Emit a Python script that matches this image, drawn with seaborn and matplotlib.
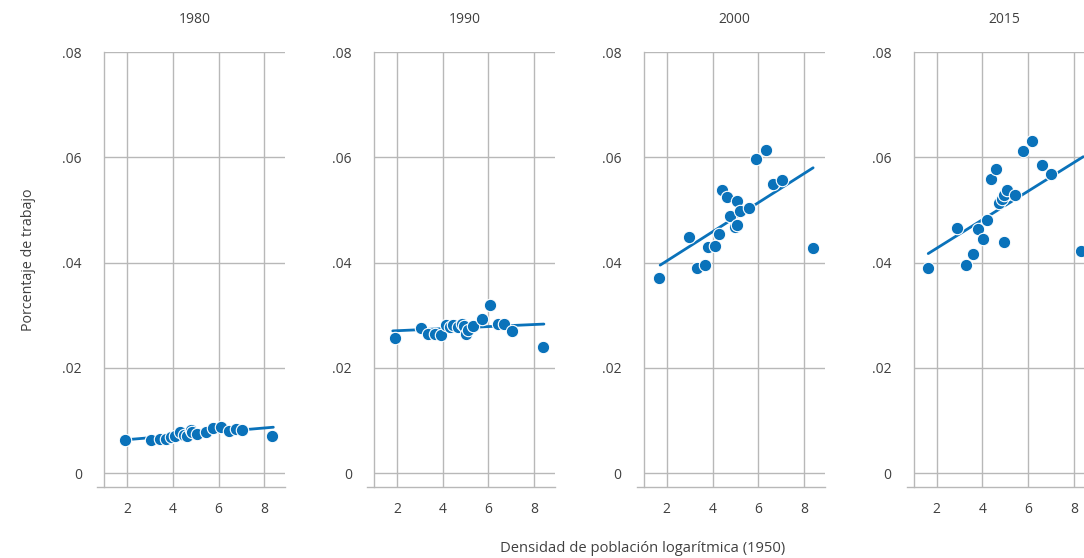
import matplotlib
matplotlib.use("Agg")
import matplotlib.pyplot as plt
import pandas as pd
import seaborn as sns

years = ["1980", "1990", "2000", "2015"]

x_1980 = [1.91, 3.04, 3.43, 3.70, 3.91, 4.10, 4.30, 4.49, 4.64, 4.81, 4.86, 5.04, 5.43, 5.75, 6.09, 6.45, 6.77, 7.03, 8.33]
y_1980 = [0.0063, 0.0063, 0.0065, 0.0065, 0.0069, 0.0071, 0.0078, 0.0072, 0.0070, 0.0082, 0.0077, 0.0075, 0.0078, 0.0086, 0.0087, 0.0080, 0.0084, 0.0081, 0.0070]

x_1990 = [1.90, 3.05, 3.38, 3.65, 3.93, 4.14, 4.33, 4.43, 4.65, 4.84, 4.91, 5.02, 5.09, 5.33, 5.72, 6.05, 6.40, 6.67, 7.03, 8.36]
y_1990 = [0.0257, 0.0276, 0.0264, 0.0264, 0.0262, 0.0281, 0.0278, 0.0281, 0.0277, 0.0283, 0.0279, 0.0265, 0.0272, 0.0279, 0.0293, 0.0319, 0.0283, 0.0284, 0.0269, 0.0239]

x_2000 = [1.68, 2.95, 3.34, 3.65, 3.82, 4.10, 4.28, 4.43, 4.65, 4.77, 4.96, 5.05, 5.06, 5.21, 5.60, 5.90, 6.33, 6.62, 7.03, 8.39]
y_2000 = [0.0371, 0.0449, 0.0390, 0.0395, 0.0429, 0.0432, 0.0454, 0.0538, 0.0524, 0.0488, 0.0467, 0.0472, 0.0517, 0.0497, 0.0503, 0.0596, 0.0613, 0.0549, 0.0557, 0.0427]

x_2015 = [1.61, 2.88, 3.28, 3.58, 3.79, 4.04, 4.20, 4.39, 4.60, 4.73, 4.83, 4.95, 4.96, 5.09, 5.44, 5.76, 6.18, 6.58, 6.99, 8.32]
y_2015 = [0.0389, 0.0466, 0.0395, 0.0416, 0.0464, 0.0444, 0.0480, 0.0559, 0.0578, 0.0514, 0.0521, 0.0439, 0.0529, 0.0537, 0.0529, 0.0611, 0.0631, 0.0585, 0.0569, 0.0422]

# fitted line end points
fit_x = {"1980": [1.91, 8.39], "1990": [1.82, 8.42], "2000": [1.71, 8.39], "2015": [1.63, 8.40]}
fit_y = {"1980": [0.0063, 0.0087], "1990": [0.0270, 0.0283], "2000": [0.0395, 0.0580], "2015": [0.0417, 0.0601]}

x_ticks = [2, 4, 6, 8]
y_ticks = [0, 0.02, 0.04, 0.06, 0.08]
y_tick_labels = ["0", ".02", ".04", ".06", ".08"]

points = {"1980": (x_1980, y_1980), "1990": (x_1990, y_1990),
          "2000": (x_2000, y_2000), "2015": (x_2015, y_2015)}

sns.set_style("white")
plt.rcParams["font.family"] = ["Open Sans", "DejaVu Sans"]

blue = "#0a72ba"
grid_col = "#b8b8b8"
text_col = "#404040"

W, H = 1084, 558
fig = plt.figure(figsize=(W / 100, H / 100), dpi=100)

ax_w = 180.9
for i, yr in enumerate(years):
    left = 104.1 + i * 269.9
    ax = fig.add_axes([left / W, 71 / H, ax_w / W, 435 / H])
    df = pd.DataFrame({"x": points[yr][0], "y": points[yr][1]})
    line = pd.DataFrame({"x": fit_x[yr], "y": fit_y[yr]})
    sns.lineplot(data=line, x="x", y="y", ax=ax, color=blue, lw=2, zorder=3)
    sns.scatterplot(data=df, x="x", y="y", ax=ax, color=blue, s=80,
                    edgecolor="white", linewidth=0.8, zorder=4)
    ax.set_xlim(1, 8.9)
    ax.set_ylim(-0.00266, 0.08)
    ax.set_xticks(x_ticks)
    ax.set_xticklabels([str(t) for t in x_ticks])
    ax.set_yticks(y_ticks)
    ax.set_yticklabels(y_tick_labels)
    ax.grid(True, color=grid_col, lw=1.0)
    ax.set_axisbelow(True)
    ax.tick_params(axis="both", length=0, labelsize=10, colors=text_col)
    ax.tick_params(axis="y", pad=16)
    ax.tick_params(axis="x", pad=11)
    for s in ["top", "right"]:
        ax.spines[s].set_visible(False)
    for s in ["left", "bottom"]:
        ax.spines[s].set_color(grid_col)
        ax.spines[s].set_linewidth(1.0)
    # bottom rule pokes out a little to the left of the y axis
    ax.spines["bottom"].set_bounds(0.7, 8.9)
    ax.set_xlabel("")
    ax.set_ylabel("")
    ax.set_title(yr, fontsize=10, color=text_col, pad=21)

fig.text(28 / W, 1 - 260 / H, "Porcentaje de trabajo", rotation=90,
         ha="center", va="center", fontsize=10.3, color=text_col)
fig.text(643 / W, 1 - 548 / H, "Densidad de población logarítmica (1950)",
         ha="center", va="center", fontsize=10.6, color=text_col)

fig.savefig("out.png", dpi=100)
